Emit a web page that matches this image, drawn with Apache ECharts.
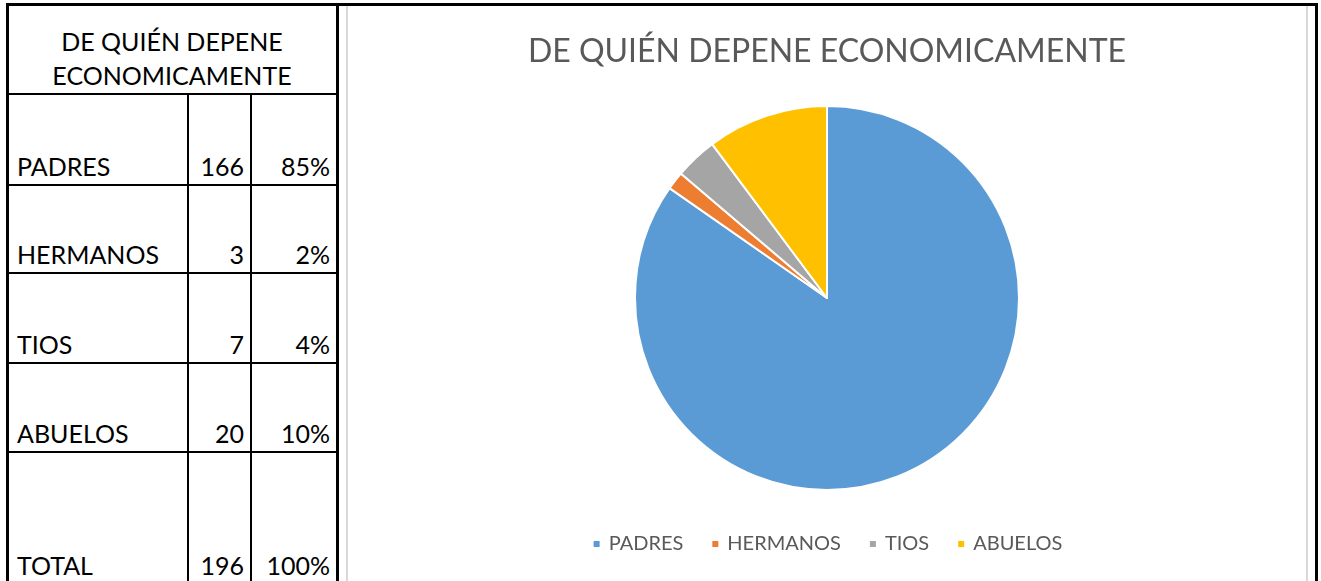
<!doctype html>
<html>
    <head>
        <meta charset="utf-8">
        <title>De quién depene economicamente</title>
        <style>
            html, body { margin: 0; padding: 0; background: #fff; }
            body { width: 1321px; height: 581px; position: relative; overflow: hidden; font-family: Lato, 'Open Sans', sans-serif; }
            .ln { position: absolute; background: #000; }
            .gray { position: absolute; background: #d9d9d9; }
            .cell { position: absolute; font-size: 25px; color: #000; line-height: 30px; height: 30px; white-space: nowrap; }
            #main { position: absolute; left: 348px; top: 8px; width: 958px; height: 573px; }
        </style>
    </head>
    <body>
        <div id="main"></div>
        <script src="https://cdn.jsdelivr.net/npm/echarts@6/dist/echarts.min.js"></script>
        <script>
            var tableTitle = ['DE QUIÉN DEPENE', 'ECONOMICAMENTE'];
            var chartTitle = 'DE QUIÉN DEPENE ECONOMICAMENTE';
            var categories = ['PADRES', 'HERMANOS', 'TIOS', 'ABUELOS'];
            var counts = [166, 3, 7, 20];
            var percents = ['85%', '2%', '4%', '10%'];
            var totalRow = ['TOTAL', 196, '100%'];
            var colors = ['#5B9BD5', '#ED7D31', '#A5A5A5', '#FFC000'];

            // sheet grid (bottom edge of each row)
            var rowBottoms = [184, 272, 362, 451, 581];

            function add(cls, l, t, w, h, txt, align) {
                var d = document.createElement('div');
                d.className = cls;
                d.style.left = l + 'px';
                d.style.top = t + 'px';
                d.style.width = w + 'px';
                if (h != null) d.style.height = h + 'px';
                if (txt != null) d.textContent = txt;
                if (align) d.style.textAlign = align;
                document.body.appendChild(d);
                return d;
            }

            // borders
            add('ln', 6, 3, 1312, 3);
            add('ln', 6, 3, 3, 578);
            add('ln', 336, 3, 3, 578);
            add('ln', 1315, 3, 3, 578);
            add('gray', 346, 6, 2, 575);
            add('gray', 1306, 6, 2, 575);
            add('ln', 8, 93, 330, 2);
            rowBottoms.slice(0, 4).forEach(function (y) {
                add('ln', 8, y, 330, 2);
            });
            add('ln', 187, 95, 2, 486);
            add('ln', 250, 95, 2, 486);

            // header
            add('cell', 8, 26, 328, null, tableTitle[0], 'center');
            add('cell', 8, 60, 328, null, tableTitle[1], 'center');

            var rows = categories.map(function (c, i) {
                return [c, counts[i], percents[i]];
            }).concat([totalRow]);
            rows.forEach(function (r, i) {
                var top = rowBottoms[i] - 33;
                if (i === 4) top = 581 - 31;
                add('cell', 17, top, 165, null, r[0], 'left');
                add('cell', 189, top, 55, null, String(r[1]), 'right');
                add('cell', 252, top, 78, null, r[2], 'right');
            });

            var chart = echarts.init(document.getElementById('main'));
            chart.setOption({
                animation: false,
                color: colors,
                title: {
                    text: chartTitle,
                    left: 'center',
                    top: 23,
                    textStyle: {
                        fontFamily: 'Lato',
                        fontWeight: 'normal',
                        fontSize: 32,
                        color: '#595959'
                    }
                },
                legend: {
                    bottom: 22,
                    left: 'center',
                    icon: 'rect',
                    itemWidth: 8,
                    itemHeight: 8,
                    itemGap: 27,
                    textStyle: {
                        fontFamily: 'Lato',
                        fontSize: 20,
                        color: '#595959',
                        padding: [0, 0, 0, 3]
                    },
                    data: categories
                },
                series: [{
                    type: 'pie',
                    center: [479, 290],
                    radius: 192,
                    startAngle: 90,
                    clockwise: true,
                    label: { show: false },
                    labelLine: { show: false },
                    emphasis: { disabled: true },
                    itemStyle: {
                        borderColor: '#fff',
                        borderWidth: 2
                    },
                    data: categories.map(function (c, i) {
                        return { name: c, value: counts[i] };
                    })
                }]
            });
        </script>
    </body>
</html>
